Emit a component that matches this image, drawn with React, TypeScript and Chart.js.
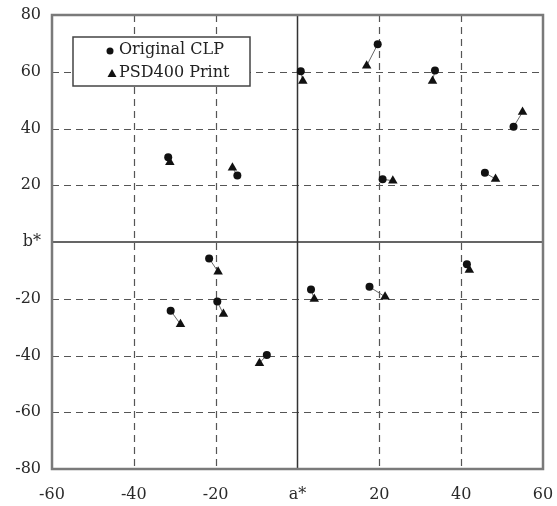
import React, { useEffect, useRef } from 'react';
import { Chart, registerables } from 'chart.js';

Chart.register(...registerables);

// Original CLP (a*, b*)
const originalA = [0.8, 19.6, 33.6, 52.8, 20.8, 45.8, -31.6, -14.7, -21.6, -19.6, -31.0, -7.5, 3.3, 17.6, 41.4];
const originalB = [60.2, 69.7, 60.4, 40.6, 22.1, 24.4, 29.9, 23.4, -5.8, -21.0, -24.2, -39.8, -16.7, -15.8, -7.8];
// PSD400 Print (a*, b*)
const printA = [1.3, 16.9, 33.0, 55.0, 23.3, 48.4, -31.2, -15.9, -19.4, -18.1, -28.6, -9.3, 4.1, 21.4, 42.0];
const printB = [56.7, 62.1, 56.7, 45.8, 21.6, 22.2, 28.1, 26.2, -10.5, -25.4, -29.0, -42.7, -20.1, -19.3, -9.9];

const xTickValues = [-60, -40, -20, 0, 20, 40, 60];
const xTickLabels = ['-60', '-40', '-20', 'a*', '20', '40', '60'];
const yTickValues = [-80, -60, -40, -20, 0, 20, 40, 60, 80];
const yTickLabels = ['-80', '-60', '-40', '-20', 'b*', '20', '40', '60', '80'];

const seriesNames = ['Original CLP', 'PSD400 Print'];

const FONT = "'DejaVu Serif', 'Liberation Serif', serif";

const gridPlugin = {
  id: 'customGrid',
  beforeDatasetsDraw(chart: any) {
    const { ctx, chartArea, scales } = chart;
    const xs = scales.x;
    const ys = scales.y;
    ctx.save();
    ctx.strokeStyle = '#555';
    ctx.lineWidth = 1.2;
    ctx.setLineDash([7, 5]);
    xTickValues.forEach((v) => {
      if (v === 0 || v === -60 || v === 60) return;
      const px = Math.round(xs.getPixelForValue(v)) + 0.5;
      ctx.beginPath();
      ctx.moveTo(px, chartArea.top);
      ctx.lineTo(px, chartArea.bottom);
      ctx.stroke();
    });
    yTickValues.forEach((v) => {
      if (v === 0 || v === -80 || v === 80) return;
      const py = Math.round(ys.getPixelForValue(v)) + 0.5;
      ctx.beginPath();
      ctx.moveTo(chartArea.left, py);
      ctx.lineTo(chartArea.right, py);
      ctx.stroke();
    });
    ctx.setLineDash([]);
    ctx.strokeStyle = '#333';
    ctx.lineWidth = 1.5;
    const x0 = xs.getPixelForValue(0);
    const y0 = ys.getPixelForValue(0);
    ctx.beginPath();
    ctx.moveTo(x0, chartArea.top);
    ctx.lineTo(x0, chartArea.bottom);
    ctx.moveTo(chartArea.left, y0);
    ctx.lineTo(chartArea.right, y0);
    ctx.stroke();
    ctx.strokeStyle = '#666';
    ctx.lineWidth = 1;
    originalA.forEach((a, i) => {
      ctx.beginPath();
      ctx.moveTo(xs.getPixelForValue(a), ys.getPixelForValue(originalB[i]));
      ctx.lineTo(xs.getPixelForValue(printA[i]), ys.getPixelForValue(printB[i]));
      ctx.stroke();
    });
    ctx.restore();
  },
  afterDraw(chart: any) {
    const { ctx, chartArea } = chart;
    ctx.save();
    ctx.strokeStyle = '#7a7a7a';
    ctx.lineWidth = 2.5;
    ctx.strokeRect(chartArea.left, chartArea.top, chartArea.right - chartArea.left, chartArea.bottom - chartArea.top);
    const bx = 73, by = 37, bw = 177, bh = 49;
    ctx.fillStyle = '#fff';
    ctx.fillRect(bx, by, bw, bh);
    ctx.strokeStyle = '#444';
    ctx.lineWidth = 1.5;
    ctx.strokeRect(bx, by, bw, bh);
    ctx.fillStyle = '#111';
    ctx.beginPath();
    ctx.arc(110, 51, 3.5, 0, Math.PI * 2);
    ctx.fill();
    ctx.beginPath();
    ctx.moveTo(112, 69);
    ctx.lineTo(116.5, 77);
    ctx.lineTo(107.5, 77);
    ctx.closePath();
    ctx.fill();
    ctx.fillStyle = '#222';
    ctx.font = `16px ${FONT}`;
    ctx.textBaseline = 'middle';
    ctx.textAlign = 'left';
    ctx.fillText(seriesNames[0], 119, 50);
    ctx.fillText(seriesNames[1], 119, 73);
    ctx.restore();
  },
};

export default function App() {
  const ref = useRef<HTMLCanvasElement | null>(null);
  useEffect(() => {
    if (!ref.current) return;
    const chart = new Chart(ref.current, {
      type: 'scatter',
      data: {
        datasets: [
          {
            label: seriesNames[0],
            data: originalA.map((a, i) => ({ x: a, y: originalB[i] })),
            pointStyle: 'circle',
            pointRadius: 4,
            backgroundColor: '#111',
            borderColor: '#111',
            borderWidth: 0,
          },
          {
            label: seriesNames[1],
            data: printA.map((a, i) => ({ x: a, y: printB[i] })),
            pointStyle: 'triangle',
            pointRadius: 5.5,
            backgroundColor: '#111',
            borderColor: '#111',
            borderWidth: 0,
          },
        ],
      },
      options: {
        animation: false,
        responsive: false,
        maintainAspectRatio: false,
        layout: { padding: { top: 15, right: 14, left: 0, bottom: 0 } },
        plugins: { legend: { display: false }, tooltip: { enabled: false } },
        scales: {
          x: {
            type: 'linear',
            min: -60,
            max: 60,
            afterBuildTicks: (s: any) => {
              s.ticks = xTickValues.map((v) => ({ value: v }));
            },
            afterFit: (s: any) => {
              s.height = 37;
              s.paddingLeft = 0;
              s.paddingRight = 0;
            },
            grid: { display: false, drawTicks: false },
            border: { display: false },
            ticks: {
              padding: 16,
              color: '#2a2a2a',
              font: { family: FONT, size: 16 },
              maxRotation: 0,
              callback: (v: any) => xTickLabels[xTickValues.indexOf(Number(v))],
            },
          },
          y: {
            type: 'linear',
            min: -80,
            max: 80,
            afterBuildTicks: (s: any) => {
              s.ticks = yTickValues.map((v) => ({ value: v }));
            },
            afterFit: (s: any) => {
              s.width = 52;
              s.paddingTop = 0;
              s.paddingBottom = 0;
            },
            grid: { display: false, drawTicks: false },
            border: { display: false },
            ticks: {
              padding: 11,
              color: '#2a2a2a',
              font: { family: FONT, size: 16 },
              callback: (v: any) => yTickLabels[yTickValues.indexOf(Number(v))],
            },
          },
        },
      },
      plugins: [gridPlugin],
    });
    return () => chart.destroy();
  }, []);
  return (
    <div style={{ position: 'fixed', left: 0, top: 0, width: 557, height: 506, background: '#fff' }}>
      <canvas ref={ref} width={557} height={506} style={{ width: 557, height: 506, display: 'block' }} />
    </div>
  );
}
